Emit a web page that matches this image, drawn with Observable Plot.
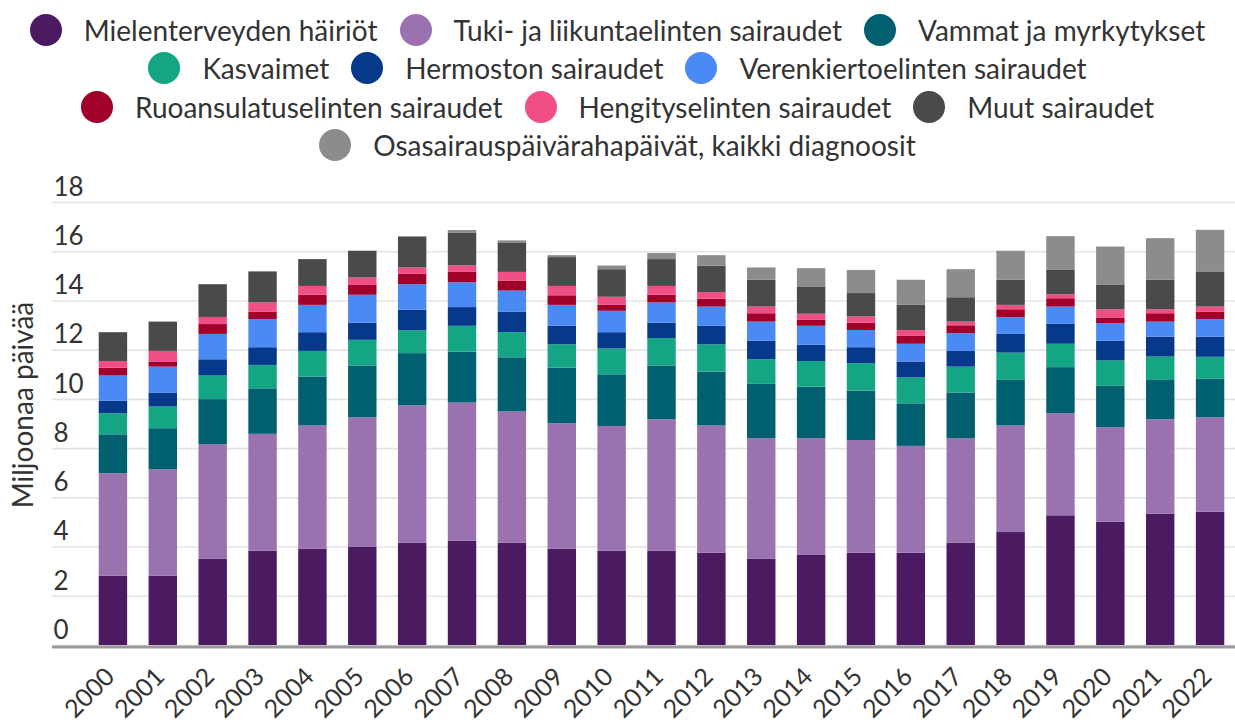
<!DOCTYPE html>
<html>
<head>
<meta charset="utf-8">
<script src="https://cdn.jsdelivr.net/npm/d3@7"></script>
<script src="https://cdn.jsdelivr.net/npm/@observablehq/plot@0.6"></script>
<style>
  html, body { margin: 0; padding: 0; background: #fff; }
  body { width: 1235px; height: 722px; overflow: hidden; font-family: Lato, "Open Sans", sans-serif; color: #333; }
  #legend { padding-top: 11px; height: 165px; box-sizing: border-box; }
  .row { display: flex; justify-content: center; align-items: center; height: 38.3px; }
  .item { display: flex; align-items: center; margin: 0 11px; }
  .dot { width: 32px; height: 32px; border-radius: 50%; margin-right: 22px; flex: none; }
  .lab { font-size: 28px; white-space: nowrap; line-height: 1; }
  #chart svg { display: block; }
</style>
</head>
<body>
<div id="legend"></div>
<div id="chart"></div>
<script>
const years = ["2000","2001","2002","2003","2004","2005","2006","2007","2008","2009","2010","2011","2012","2013","2014","2015","2016","2017","2018","2019","2020","2021","2022"];

const seriesNames = [
  "Mielenterveyden häiriöt",
  "Tuki- ja liikuntaelinten sairaudet",
  "Vammat ja myrkytykset",
  "Kasvaimet",
  "Hermoston sairaudet",
  "Verenkiertoelinten sairaudet",
  "Ruoansulatuselinten sairaudet",
  "Hengityselinten sairaudet",
  "Muut sairaudet",
  "Osasairauspäivärahapäivät, kaikki diagnoosit"
];

const seriesColors = ["#4c1a60","#9b72b0","#00606f","#13a584","#06398a","#4a8af4","#a1002a","#ef4f85","#4a4a4a","#8c8c8c"];

const mielenterveys = [2.82,2.82,3.50,3.83,3.92,4.00,4.16,4.24,4.16,3.92,3.83,3.83,3.75,3.50,3.66,3.75,3.75,4.16,4.59,5.27,5.01,5.34,5.42];
const tuki          = [4.16,4.32,4.66,4.75,5.00,5.25,5.58,5.61,5.33,5.09,5.07,5.34,5.17,4.90,4.74,4.58,4.34,4.24,4.33,4.15,3.84,3.83,3.83];
const vammat        = [1.58,1.67,1.83,1.85,1.99,2.11,2.12,2.07,2.20,2.26,2.10,2.19,2.19,2.21,2.10,2.01,1.73,1.86,1.85,1.87,1.68,1.60,1.58];
const kasvaimet     = [0.86,0.88,0.96,0.95,1.04,1.04,0.93,1.05,1.02,0.95,1.05,1.11,1.11,1.00,1.04,1.11,1.05,1.05,1.11,0.95,1.03,0.95,0.88];
const hermosto      = [0.50,0.57,0.66,0.72,0.76,0.70,0.83,0.76,0.84,0.75,0.66,0.63,0.75,0.76,0.66,0.65,0.65,0.64,0.76,0.81,0.81,0.81,0.82];
const verenkierto   = [1.03,1.05,1.03,1.14,1.11,1.13,1.04,1.01,0.85,0.85,0.87,0.82,0.78,0.77,0.77,0.70,0.72,0.72,0.68,0.70,0.71,0.61,0.71];
const ruoansulatus  = [0.32,0.21,0.40,0.31,0.41,0.40,0.42,0.42,0.41,0.39,0.24,0.31,0.32,0.34,0.24,0.30,0.32,0.32,0.32,0.34,0.23,0.34,0.31];
const hengitys      = [0.27,0.43,0.29,0.37,0.36,0.30,0.26,0.26,0.35,0.38,0.33,0.36,0.27,0.27,0.25,0.25,0.24,0.15,0.18,0.16,0.33,0.16,0.20];
const muut          = [1.17,1.19,1.33,1.26,1.09,1.09,1.26,1.34,1.20,1.17,1.12,1.09,1.07,1.09,1.11,0.95,1.02,0.99,1.02,0.99,0.99,1.20,1.43];
const osasairaus    = [0,0,0,0,0,0,0,0.10,0.08,0.08,0.15,0.25,0.43,0.50,0.74,0.94,1.02,1.14,1.18,1.37,1.56,1.69,1.69];

const yTicks = [0,2,4,6,8,10,12,14,16,18];
const yLabel = "Miljoonaa päivää";

const seriesValues = [mielenterveys, tuki, vammat, kasvaimet, hermosto, verenkierto, ruoansulatus, hengitys, muut, osasairaus];

const data = [];
seriesNames.forEach((name, i) => {
  years.forEach((yr, j) => {
    data.push({year: yr, series: name, value: seriesValues[i][j]});
  });
});

// Legend (rows of three)
const legend = document.getElementById("legend");
for (let r = 0; r < seriesNames.length; r += 3) {
  const row = document.createElement("div");
  row.className = "row";
  seriesNames.slice(r, r + 3).forEach((name, k) => {
    const it = document.createElement("div");
    it.className = "item";
    const dot = document.createElement("span");
    dot.className = "dot";
    dot.style.background = seriesColors[r + k];
    const lab = document.createElement("span");
    lab.className = "lab";
    lab.textContent = name;
    it.appendChild(dot); it.appendChild(lab);
    row.appendChild(it);
  });
  legend.appendChild(row);
}

const chart = Plot.plot({
  width: 1235,
  height: 557,
  marginTop: 37,
  marginBottom: 77,
  marginLeft: 52,
  marginRight: 0,
  style: {fontFamily: "Lato, 'Open Sans', sans-serif", color: "#333", background: "#fff"},
  x: {type: "band", domain: years, range: [88, 1235], paddingInner: 0.43, paddingOuter: 0.215, round: false},
  y: {domain: [0, 18]},
  color: {domain: seriesNames, range: seriesColors},
  marks: [
    Plot.ruleY(yTicks, {stroke: "#e4e4e4", strokeWidth: 1.6}),
    Plot.barY(data, {x: "year", y: "value", fill: "series"}),
    Plot.ruleY([0], {stroke: "#999", strokeWidth: 3, dy: 1.5}),
    Plot.axisY(yTicks, {
      tickSize: 0, tickPadding: 0, textAnchor: "start", dx: 1, dy: -15,
      fontSize: 26, fill: "#333", label: null
    }),
    Plot.text([yLabel], {
      frameAnchor: "left", textAnchor: "middle", rotate: -90, dx: -28, dy: -19,
      fontSize: 28, fill: "#333", lineAnchor: "middle"
    }),
    Plot.axisX({
      tickSize: 0, tickRotate: -45, tickPadding: 14, dy: 13, dx: -3, fontSize: 25, fill: "#333", label: null
    })
  ]
});
document.getElementById("chart").appendChild(chart);
</script>
</body>
</html>
